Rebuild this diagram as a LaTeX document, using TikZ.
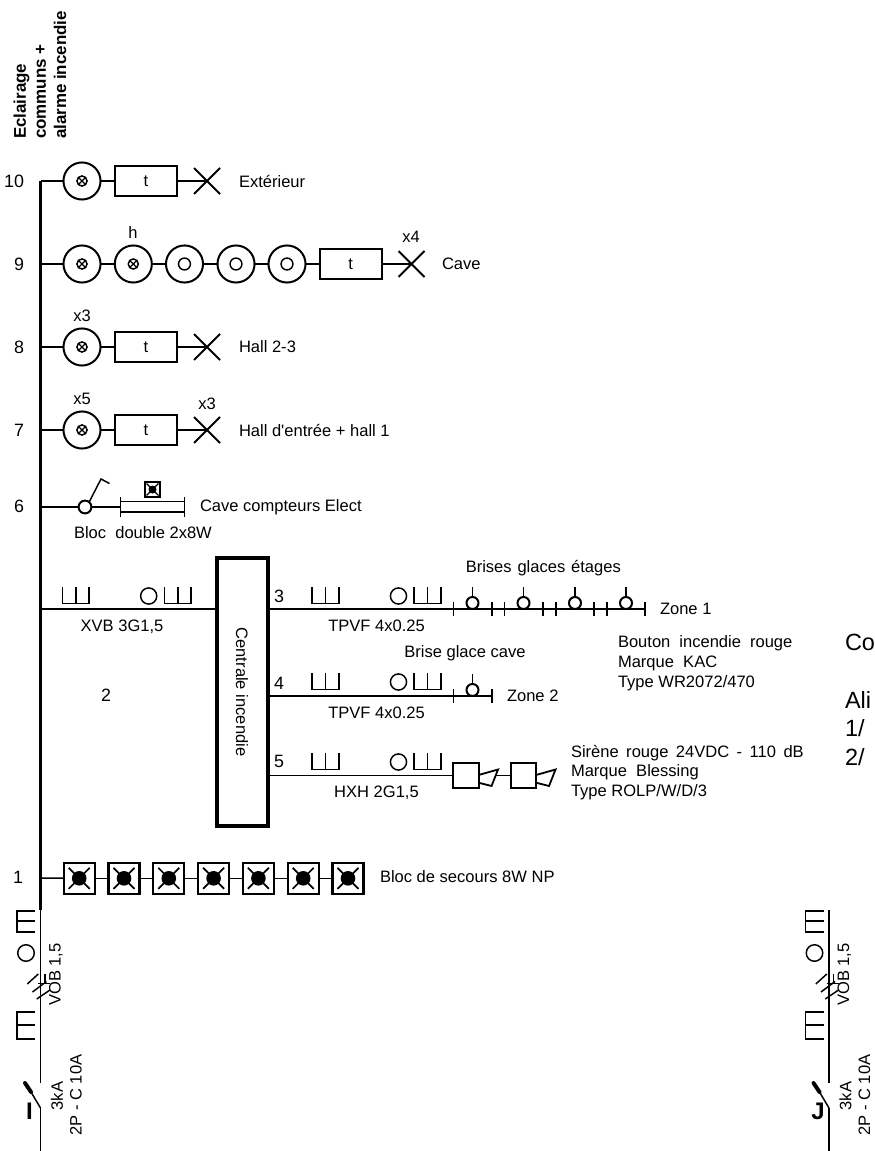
\documentclass[tikz,border=0pt]{standalone}
\usepackage{fontspec}
\setmainfont[Ligatures=TeXOff]{Liberation Sans}
\tikzset{
  x=0.75pt,y=-0.75pt,
  wire/.style={line width=1.1pt,black},
  heavy/.style={line width=1.35pt,black},
  lampc/.style={circle,draw,line width=1.5pt,minimum size=27.8pt,inner sep=0pt,outer sep=0pt},
  ring/.style={circle,draw,line width=1.1pt,minimum size=8.9pt,inner sep=0pt,outer sep=0pt},
  crossring/.style={ring,minimum size=7.6pt,path picture={\draw[line width=0.9pt] (path picture bounding box.north west)--(path picture bounding box.south east) (path picture bounding box.north east)--(path picture bounding box.south west);}},
  timer/.style={rectangle,draw,line width=1.6pt,minimum width=46.6pt,minimum height=22.8pt,inner sep=0pt,outer sep=0pt,font=\fontsize{12.4}{14}\selectfont},
  lab/.style={inner sep=0pt,outer sep=0pt,font=\fontsize{12.4}{14}\selectfont},
  labw/.style={lab,anchor=west},
  num/.style={inner sep=0pt,outer sep=0pt,anchor=east,font=\fontsize{13.4}{15}\selectfont},
  big/.style={inner sep=0pt,outer sep=0pt,anchor=west,font=\fontsize{17.6}{20}\selectfont},
  head/.style={inner sep=0pt,outer sep=0pt,rotate=90,anchor=west,font=\fontsize{12.7}{14}\selectfont\bfseries},
  combmark/.style={line width=1.3pt,black},
  secbox/.style={rectangle,draw,line width=1.7pt,minimum size=23.2pt,inner sep=0pt,outer sep=0pt},
  smallring/.style={circle,draw,line width=1.1pt,minimum size=12.1pt,inner sep=0pt,outer sep=0pt},
  hornbox/.style={rectangle,draw,line width=1.5pt,minimum size=18.8pt,inner sep=0pt,outer sep=0pt},
  callpoint/.style={circle,draw,line width=1.5pt,minimum size=9pt,inner sep=0pt,outer sep=0pt},
  central/.style={rectangle,draw,line width=3pt,minimum width=38.5pt,minimum height=200.8pt,inner sep=0pt,outer sep=0pt},
}
% lamp x mark at a named coordinate
\newcommand{\xlamp}[1]{\draw[heavy] (#1) ++(-13,-13) -- ++(26,26) (#1) ++(-13,13) -- ++(26,-26);}
% comb: three vertical strokes closed below: x, top
\newcommand{\combU}[2]{\draw[combmark] (#1,#2) -- ++(0,16.5) -- ++(26.7,0) -- ++(0,-16.5) (#1,#2) ++(13.3,0) -- ++(0,16.5);}
% name, x, top
\newcommand{\cablegroup}[3]{\combU{#2}{#3}\node[smallring] (#1) at (#2,#3) [xshift=64.65pt,yshift=-6.75pt] {};\begin{scope}[xshift=76.5pt]\combU{#2}{#3}\end{scope}}
\newcommand{\callpt}[3]{\node[callpoint] (#1) at (#2,#3) {};\draw[heavy] (#2,#3) ++(0,-16) -- (#1.north);}
\newcommand{\horn}[1]{\draw[heavy,line join=miter] (#1.east) ++(0,-0.7) -- ++(19.5,-5.5) -- ++(-6.5,16.5) -- ++(-13,-3.3);}
\newcommand{\drop}[3]{%
  \begin{scope}[xshift=#2*0.75pt]
  \coordinate (#1top) at (0,910);
  \coordinate (#1mid) at (0,1083);
  \coordinate (#1low) at (0,1108);
  \coordinate (#1end) at (0,1151);
  \coordinate (#1tip) at (-9.5,1092);
  \coordinate (#1tipb) at (-15.5,1083);
  \draw[wire] (#1top) -- (#1mid);
  \draw[wire] (#1low) -- (#1end);
  \draw[wire] (#1low) -- (#1tip);
  \draw[line width=3pt,line cap=round,black] (#1tip) -- (#1tipb);
  \draw[combmark] (-5.5,910.7) -- (-23.5,910.7) -- (-23.5,931.7) -- (-5.5,931.7) (-23.5,921) -- (-5.5,921);
  \node[circle,draw,line width=1.1pt,minimum size=12.4pt,inner sep=0pt] (#1oc) at (-14.5,953) {};
  \draw[wire] (-13.2,984) -- (-2.2,974);
  \draw[wire] (-8,992) -- (6,981.5);
  \draw[wire] (-3.8,999) -- (9.5,990);
  \draw[wire] (-2.5,983.5) -- (9.5,983.5) (4.5,973.5) -- (4.5,983.5);
  \draw[combmark] (-5.5,1011.7) -- (-23.5,1011.7) -- (-23.5,1039) -- (-5.5,1039) (-23.5,1025) -- (-5.5,1025);
  \node[lab,rotate=90] (#1vob) at (15.5,974.5) {VOB 1,5};
  \node[lab,rotate=90] (#1ka) at (16.5,1096) {3kA};
  \node[lab,rotate=90] (#1cal) at (35.5,1095) {2P - C 10A};
  \node[inner sep=0pt,font=\fontsize{18}{20}\selectfont\bfseries] (#1let) at (-11,1111) {#3};
  \end{scope}
}
\begin{document}
\begin{tikzpicture}
\useasboundingbox (0,0) rectangle (874,1151);
% header
\node[head] (h1) at (21.5,139) {Eclairage};
\node[head] (h2) at (41,139) {communs +};
\node[head] (h3) at (60,139) {alarme incendie};
% bus
\coordinate (b10) at (40.5,181);
\coordinate (bf) at (40.5,609);
\coordinate (bend) at (40.5,910);
\draw[line width=1.6pt] (b10) -- (bf);
\draw[line width=2.2pt] (bf) -- (bend);
% rows 10, 8, 7
\foreach \nm/\yy/\lb in {a/181/10, c/347/8, d/430/7}{
  \coordinate (bus\nm) at (40.5,\yy);
  \node[lampc] (l\nm) at (82,\yy) {};
  \node[crossring] (li\nm) at (82,\yy) {};
  \node[timer] (t\nm) at (146,\yy) {t};
  \coordinate (x\nm) at (207,\yy);
  \draw[wire] (bus\nm) -- (l\nm);
  \draw[wire] (l\nm) -- (t\nm);
  \draw[wire] (t\nm) -- (x\nm);
  \xlamp{x\nm}
  \node[num] (n\nm) at (24,\yy) {\lb};
}
\node[labw] (ta) at (239,181) {Extérieur};
\node[labw] (tc) at (239,347) {Hall 2-3};
\node[labw] (td) at (239,430) {Hall d'entrée + hall 1};
\node[lab] (x3a) at (82,316) {x3};
\node[lab] (x5a) at (82,399) {x5};
\node[lab] (x3b) at (207,404) {x3};
% row 9
\coordinate (bus9) at (40.5,264);
\node[num] (n9) at (24,264) {9};
\node[lampc] (m1) at (82,264) {};
\node[crossring] (mi1) at (82,264) {};
\node[lampc] (m2) at (133.3,264) {};
\node[crossring] (mi2) at (133.3,264) {};
\node[lampc] (m3) at (184.5,264) {};
\node[ring] (mi3) at (184.5,264) {};
\node[lampc] (m4) at (236,264) {};
\node[ring] (mi4) at (236,264) {};
\node[lampc] (m5) at (287,264) {};
\node[ring] (mi5) at (287,264) {};
\node[timer] (m6) at (350.7,264) {t};
\coordinate (m7) at (411.5,264);
\draw[wire] (bus9) -- (m1);
\draw[wire] (m1) -- (m2);
\draw[wire] (m2) -- (m3);
\draw[wire] (m3) -- (m4);
\draw[wire] (m4) -- (m5);
\draw[wire] (m5) -- (m6);
\draw[wire] (m6) -- (m7);
\xlamp{m7}
\node[lab] (hh) at (133,233) {h};
\node[lab] (x4) at (411,237) {x4};
\node[labw] (cav) at (442,264) {Cave};
% row 6
\coordinate (bus6) at (40.5,507);
\node[num] (n6) at (24,506) {6};
\node[circle,draw,line width=1.5pt,minimum size=9.6pt,inner sep=0pt,outer sep=0pt] (sw) at (85,507) {};
\coordinate (swa) at (101,479);
\coordinate (swb) at (109.5,483.5);
\coordinate (fl) at (120.5,507);
\coordinate (fr) at (184.5,507);
\draw[wire] (bus6) -- (sw);
\draw[wire] (sw) -- (fl);
\draw[wire] (sw.50) -- (swa) -- (swb);
\draw[wire] (120.5,497) -- (120.5,517) (184.5,497) -- (184.5,517);
\draw[wire] (120.5,501.7) -- (184.5,501.7);
\draw[heavy] (120.5,511.7) -- (184.5,511.7);
\node[rectangle,draw,line width=1.7pt,minimum size=11pt,inner sep=0pt,outer sep=0pt] (sb) at (152.5,489.5) {};
\draw[line width=1pt] (146.5,483.5) -- (158.5,495.5) (146.5,495.5) -- (158.5,483.5);
\fill (152.5,489.5) circle (4);
\node[labw] (tcc) at (200,507) {Cave compteurs Elect};
\node[labw] (tbl) at (74,533) {Bloc\ \ double 2x8W};
% central
\node[central] (ci) at (242.2,692.3) {};
\node[lab,rotate=-90] (cit) at (242,692) {Centrale incendie};
\coordinate (busf) at (40.5,609);
\draw[wire] (busf) -- (ci.west |- busf);
\cablegroup{cg0}{62.5}{587}
\node[lab] (xvb) at (122,627) {XVB 3G1,5};
\node[num,anchor=center] (n2) at (106,695) {2};
% row 3
\coordinate (c3) at (ci.east |- busf);
\coordinate (e3) at (453.3,609);
\coordinate (z3) at (645,609);
\draw[wire] (c3) -- (e3);
\draw[heavy] (e3) -- (z3);
\node[num,anchor=center] (n3) at (279,596) {3};
\cablegroup{cg3}{312.3}{587}
\foreach \tx in {453.3,491.7,504.3,543,555.7,594,607,645}{\draw[line width=1.2pt] (\tx,602) -- (\tx,616);}
\callpt{p1}{472.5}{603}
\callpt{p2}{523.5}{603}
\callpt{p3}{575}{603}
\callpt{p4}{626}{603}
\node[lab] (bge) at (543.3,568) {\spaceskip=4.4pt Brises glaces étages};
\node[labw] (z1) at (660,609) {Zone 1};
\node[labw] (bo) at (618,643.5) {\spaceskip=6.8pt Bouton incendie rouge};
\node[labw] (ma) at (618,663.5) {Marque\ \ KAC};
\node[labw] (ty) at (618,683) {Type WR2072/470};
\node[lab] (tp1) at (376.5,626) {TPVF 4x0.25};
% row 4
\coordinate (c4) at (268,696);
\coordinate (e4) at (453.3,696);
\coordinate (z4) at (491.7,696);
\draw[wire] (c4) -- (e4);
\draw[heavy] (e4) -- (z4);
\node[num,anchor=center] (n4) at (279,683) {4};
\cablegroup{cg4}{312.3}{673}
\foreach \tx in {453.3,491.7}{\draw[line width=1.2pt] (\tx,689) -- (\tx,703);}
\callpt{p5}{472.5}{690}
\node[lab] (bgc) at (465,653) {Brise glace cave};
\node[labw] (z2) at (507,696) {Zone 2};
\node[lab] (tp2) at (376.5,713) {TPVF 4x0.25};
% row 5
\coordinate (c5) at (268,775.7);
\node[hornbox] (s1) at (466,775.7) {};
\node[hornbox] (s2) at (523.5,775.7) {};
\draw[wire] (c5) -- (s1);
\coordinate (sh1) at (495.5,775.7);
\draw[wire] (sh1) -- (s2);
\horn{s1}
\horn{s2}
\node[num,anchor=center] (n5) at (279,761) {5};
\cablegroup{cg5}{312.3}{753}
\node[lab] (hx) at (376.5,793) {HXH 2G1,5};
\node[labw] (si) at (571,753) {\spaceskip=5.6pt Sirène rouge 24VDC - 110 dB};
\node[labw] (mb) at (571,772.5) {Marque\ \ Blessing};
\node[labw] (tr) at (571,792) {Type ROLP/W/D/3};
% row 1
\coordinate (bus1) at (40.5,878);
\node[num] (n1) at (23,877) {1};
\foreach \i/\xx in {1/79.2,2/124,3/168.8,4/213.6,5/258.4,6/303.2,7/348}{
  \node[secbox] (q\i) at (\xx,878.3) {};
  \draw[line width=1.3pt] (\xx,878.3) ++(-10.5,-10.5) -- ++(21,21) (\xx,878.3) ++(-10.5,10.5) -- ++(21,-21);
  \fill (\xx,878.3) circle (7.3);
}
\draw[wire] (bus1) -- (q1);
\foreach \i/\j in {1/2,2/3,3/4,4/5,5/6,6/7}{\draw[wire] (q\i) -- (q\j);}
\node[labw] (bs) at (380,877) {Bloc de secours 8W NP};
% right-hand text
\node[big] (rco) at (845,642) {Co};
\node[big] (ral) at (845,700) {Ali};
\node[big] (r1) at (845,728.5) {1/};
\node[big] (r2) at (845,757.5) {2/};
% drops
\drop{dl}{40.5}{I}
\drop{dr}{829}{J}
\end{tikzpicture}
\end{document}
